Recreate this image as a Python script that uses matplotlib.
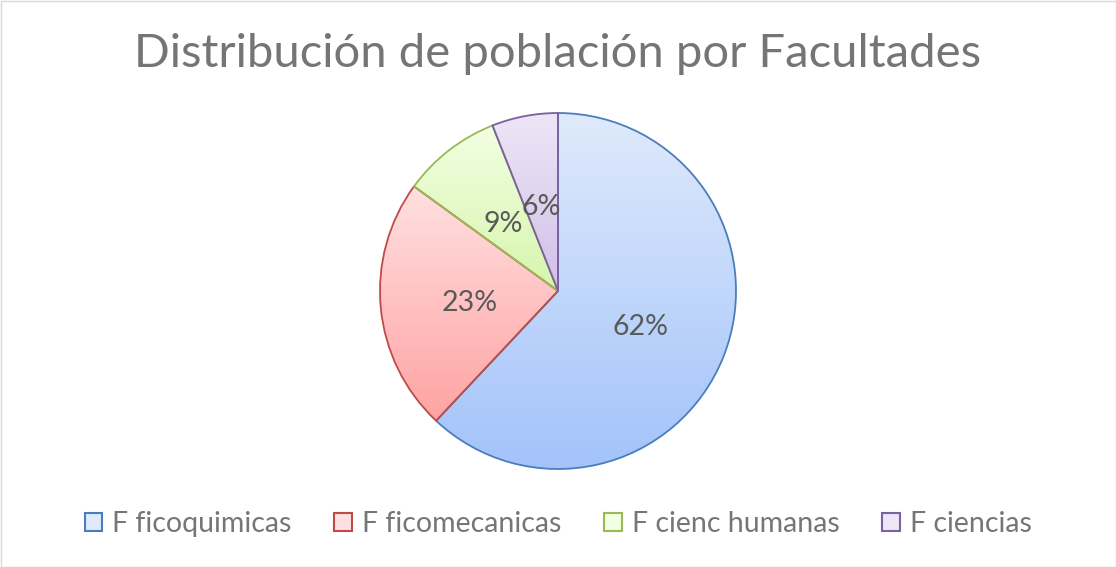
import matplotlib
matplotlib.use("Agg")
import matplotlib.pyplot as plt
import numpy as np
from matplotlib.patches import Patch, Rectangle
from matplotlib.colors import LinearSegmentedColormap

categories = ["F ficoquimicas", "F ficomecanicas", "F cienc humanas", "F ciencias"]
values = [62, 23, 9, 6]
edge_colors = ["#4a7ebb", "#be4b48", "#98b954", "#7d60a0"]
top_colors = ["#dfeafc", "#ffe0e0", "#f2ffe2", "#eee6f7"]
bottom_colors = ["#a3c3fa", "#ffa3a3", "#d6f5ad", "#d0bfe8"]

W, H = 1116, 567
fig = plt.figure(figsize=(W/100, H/100), dpi=100)
fig.patch.set_facecolor("white")
fig.add_artist(Rectangle((0.5/W, 0.5/H), 1-1.0/W, 1-1.0/H, transform=fig.transFigure,
                         fill=False, edgecolor="#d9d9d9", linewidth=1))

cx, cy, r = 558, 291, 178
ax = fig.add_axes([(cx-r)/W, (H-cy-r)/H, 2*r/W, 2*r/H])
ax.set_xlim(-1, 1); ax.set_ylim(-1, 1)
ax.axis("off")

wedges, texts, autotexts = ax.pie(values, startangle=90, counterclock=False, radius=1,
                                  autopct="%1.0f%%", pctdistance=0.5,
                                  wedgeprops=dict(linewidth=1.3),
                                  textprops=dict(fontsize=20.5, color="#595959", family="Lato"))
for w, ec, tc, bc in zip(wedges, edge_colors, top_colors, bottom_colors):
    w.set_facecolor("none")
    w.set_edgecolor(ec)
    ext = w.get_path().get_extents(w.get_patch_transform())
    cmap = LinearSegmentedColormap.from_list("g", [bc, tc])
    grad = np.linspace(0, 1, 256).reshape(-1, 1)
    im = ax.imshow(grad, cmap=cmap, origin="lower", aspect="auto",
                   extent=(ext.x0, ext.x1, ext.y0, ext.y1), zorder=0.5)
    im.set_clip_path(w)
    w.set_zorder(1)
for t in autotexts:
    t.set_zorder(3)
    x, y = t.get_position()
    t.set_position((x, y - 0.02))
ax.set_xlim(-1, 1); ax.set_ylim(-1, 1)

fig.text(0.5, 1 - 54/H, "Distribución de población por Facultades", ha="center", va="center",
         fontsize=33.9, color="#757575", family="Lato")

handles = [Patch(facecolor=tc, edgecolor=ec, linewidth=1.5) for tc, ec in zip(top_colors, edge_colors)]
leg = fig.legend(handles, categories, loc="center", bbox_to_anchor=(0.5, 1 - 524/H), ncol=4,
                 frameon=False, fontsize=20.5, handlelength=0.62, handleheight=0.62,
                 handletextpad=0.35, columnspacing=1.5)
for t in leg.get_texts():
    t.set_color("#767676")
    t.set_family("Lato")

fig.savefig("out.png", dpi=100)
